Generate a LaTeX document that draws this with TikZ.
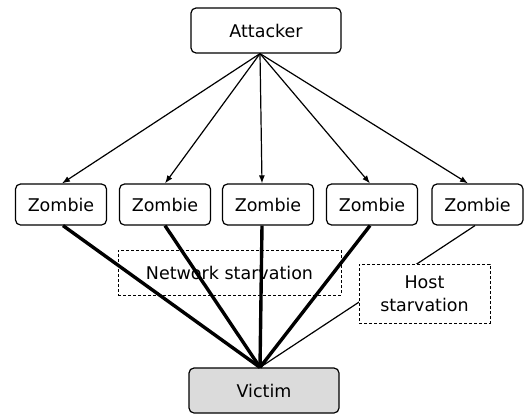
\documentclass[tikz,border=0pt]{standalone}
\usepackage{fontspec}
\setmainfont{DejaVu Sans}
\usetikzlibrary{arrows.meta}
\begin{document}
\begin{tikzpicture}[x=1pt,y=-1pt,
  box/.style={draw=black, line width=1.2pt, rounded corners=5pt, inner sep=0pt,
    font=\fontsize{17.5}{21}\selectfont},
  zbox/.style={box, minimum width=91pt, minimum height=41pt},
  dbox/.style={draw=black, line width=0.9pt, dash pattern=on 3pt off 2pt, inner sep=0pt,
    align=center, font=\fontsize{17.5}{23}\selectfont},
  arr/.style={line width=1.2pt, -{Latex[length=8pt,width=6pt]}},
  heavy/.style={line width=3.4pt},
  light/.style={line width=1.2pt}]
\useasboundingbox (0,0) rectangle (526,415);
\node[box, minimum width=150pt, minimum height=45pt] (att) at (266,30.5) {Attacker};
\node[zbox] (z1) at (61,204.5) {Zombie};
\node[zbox] (z2) at (165,204.5) {Zombie};
\node[zbox] (z3) at (268,204.5) {Zombie};
\node[zbox] (z4) at (372,204.5) {Zombie};
\node[zbox] (z5) at (477.5,204.5) {Zombie};
\node[box, fill=black!14, minimum width=150pt, minimum height=45pt] (vic) at (264,390.5) {Victim};
\coordinate (src) at ([xshift=-6pt]att.south);
\coordinate (dst) at ([xshift=-4pt]vic.north);
\draw[arr] (src) -- ([xshift=1pt]z1.north);
\draw[arr] (src) -- (z2.north);
\draw[arr] (src) -- ([xshift=-6pt]z3.north);
\draw[arr] (src) -- ([xshift=-2pt]z4.north);
\draw[arr] (src) -- ([xshift=-9.5pt]z5.north);
\draw[heavy] ([xshift=2pt]z1.south) -- (dst);
\draw[heavy] (z2.south) -- (dst);
\draw[heavy] ([xshift=-6pt]z3.south) -- (dst);
\draw[heavy] ([xshift=-2pt]z4.south) -- (dst);
\draw[light] ([xshift=-2.5pt]z5.south) -- (dst);
\node[dbox, minimum width=223pt, minimum height=45pt] (net) at (229.5,272.5) {Network starvation};
\node[dbox, fill=white, minimum width=131pt, minimum height=59pt] (host) at (424.5,293.5) {Host\\starvation};
\end{tikzpicture}
\end{document}
